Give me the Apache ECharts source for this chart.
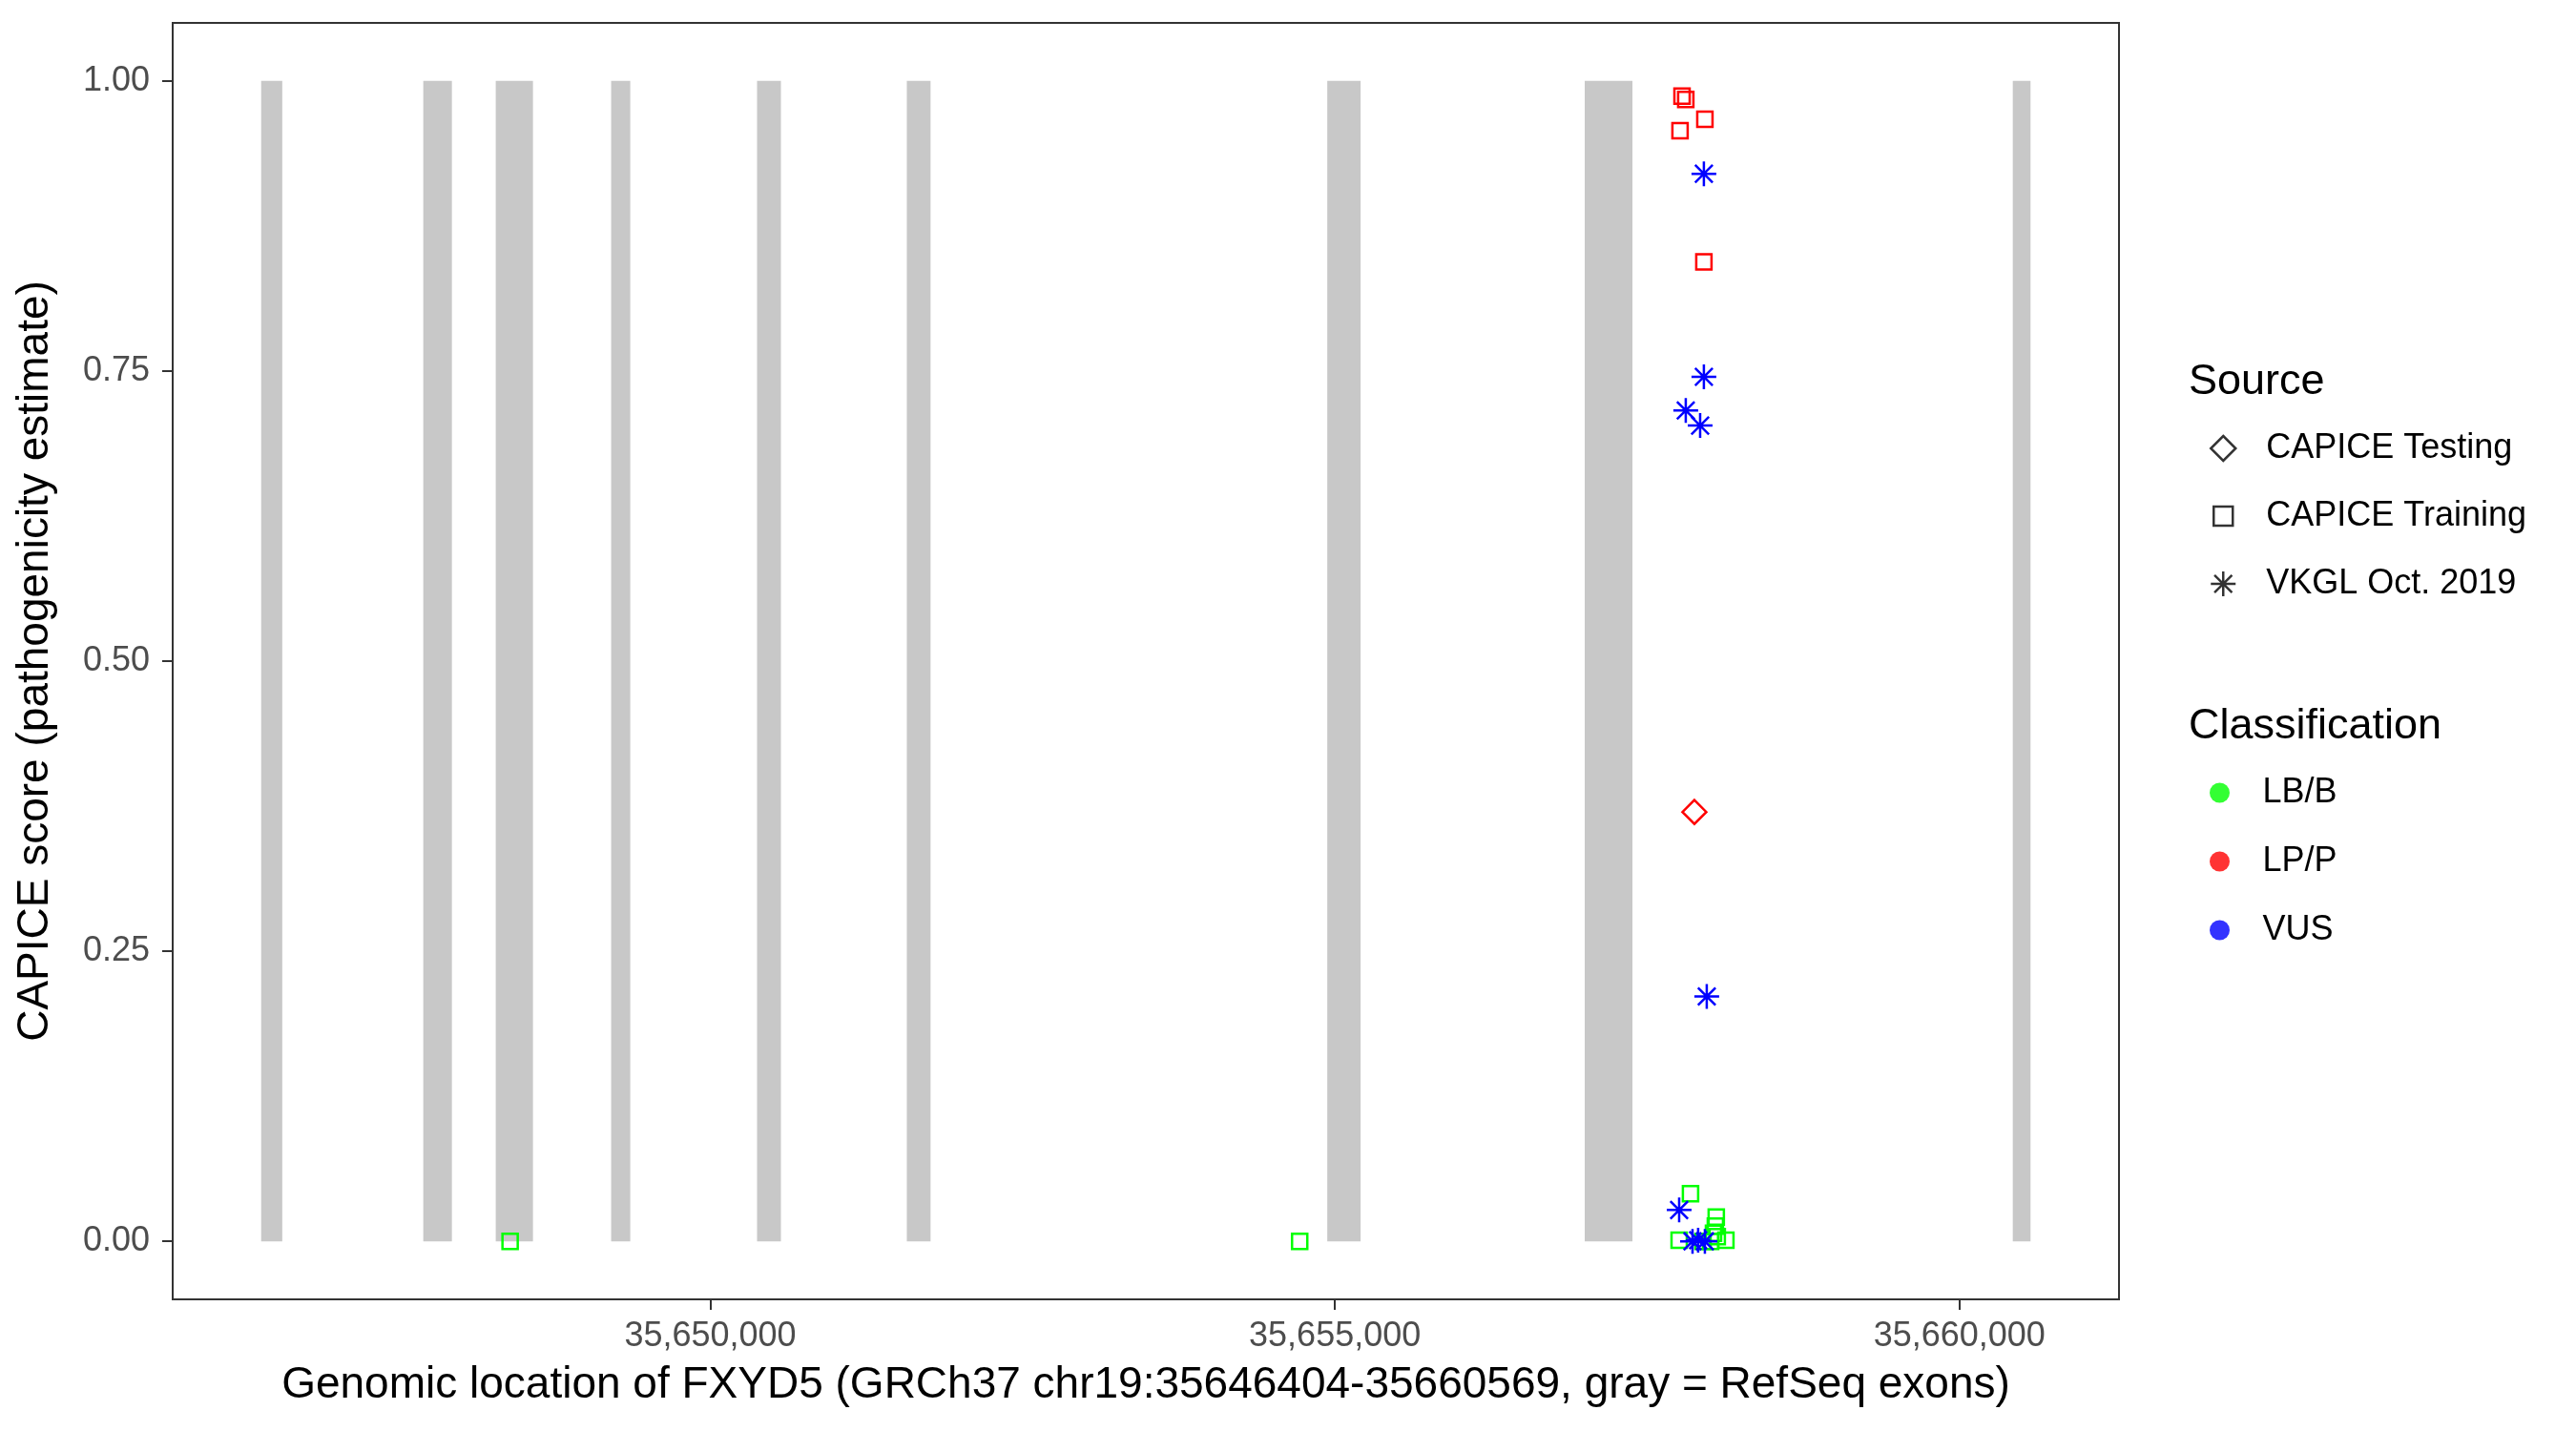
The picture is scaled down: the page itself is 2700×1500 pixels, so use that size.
<!DOCTYPE html>
<html><head><meta charset="utf-8">
<script src="https://cdn.jsdelivr.net/npm/echarts@6/dist/echarts.min.js"></script>
<style>html,body{margin:0;padding:0;background:#fff}#chart{width:2700px;height:1500px}</style>
</head><body><div id="chart"></div>
<script>
// ---- data ----
const geneStart = 35646404;
const geneEnd = 35660569;
const exonStarts = [35646404, 35647702, 35648282, 35649206, 35650374, 35651573, 35654939, 35657000, 35660427];
const exonEnds   = [35646573, 35647931, 35648580, 35649359, 35650565, 35651763, 35655206, 35657382, 35660569];
const xTicks = [35650000, 35655000, 35660000];
const yTicks = [0, 0.25, 0.5, 0.75, 1];

// CAPICE Training, LP/P
const trainLPPx = [35657779, 35657809, 35657962, 35657763, 35657954];
const trainLPPy = [0.987, 0.984, 0.967, 0.957, 0.844];
// CAPICE Testing, LP/P
const testLPPx = [35657878];
const testLPPy = [0.370];
// CAPICE Training, LB/B
const trainLBBx = [35648397, 35654718, 35657756, 35657847, 35658053, 35658046, 35658031, 35658061, 35658130, 35657947, 35658008];
const trainLBBy = [0.0, 0.0, 0.001, 0.041, 0.021, 0.013, 0.007, 0.004, 0.001, 0.0, 0.0];
// VKGL Oct. 2019, VUS
const vkglVUSx = [35657954, 35657954, 35657809, 35657924, 35657977, 35657756, 35657863, 35657962, 35657908];
const vkglVUSy = [0.920, 0.745, 0.716, 0.703, 0.211, 0.027, 0.0, 0.0, 0.001];

const sourceNames = ['CAPICE Testing', 'CAPICE Training', 'VKGL Oct. 2019'];
const classNames = ['LB/B', 'LP/P', 'VUS'];
const classColors = ['#00FF00', '#FF0000', '#0000FF'];

// ---- helpers ----
const FONT = 'Liberation Sans, Arial, Helvetica, sans-serif';
const pair = (xs, ys) => xs.map((x, i) => [x, ys[i]]);
const expand = 0.05 * (geneEnd - geneStart);
const xMin = geneStart - expand, xMax = geneEnd + expand;

const starPath = 'path://M0,-13L0,13M-13,0L13,0M-9.19,-9.19L9.19,9.19M-9.19,9.19L9.19,-9.19';
const diamondPath = 'path://M0,-13L13,0L0,13L-13,0Z';
const squareLegendPath = 'path://M-13,-13M13,13M-10,-10L10,-10L10,10L-10,10Z';
const circlePath = 'path://M-10.5,0A10.5,10.5 0 1 1 10.5,0A10.5,10.5 0 1 1 -10.5,0Z';

function pts(name, data, symbol, size, color) {
  return {
    type: 'scatter', name: name, data: data, symbol: symbol, symbolSize: size, z: 5,
    itemStyle: { color: 'rgba(0,0,0,0)', borderColor: color, borderWidth: 2.5, opacity: 1 },
    emphasis: { disabled: true }, silent: true
  };
}

const chart = echarts.init(document.getElementById('chart'), null, { renderer: 'canvas' });
const option = {
  animation: false,
  backgroundColor: '#ffffff',
  textStyle: { fontFamily: FONT },
  grid: { left: 181, top: 24, width: 2040, height: 1338, show: true, borderColor: '#333333', borderWidth: 2, backgroundColor: 'rgba(0,0,0,0)' },
  xAxis: {
    type: 'value', min: xMin, max: xMax,
    axisLine: { show: true, onZero: false, lineStyle: { color: '#333333', width: 2 } },
    axisTick: { show: true, customValues: xTicks, length: 11, lineStyle: { color: '#333333', width: 2 } },
    axisLabel: { customValues: xTicks, fontSize: 36, color: '#4D4D4D', margin: 21, fontFamily: FONT,
      formatter: v => Number(v).toLocaleString('en-US') },
    splitLine: { show: false },
    name: 'Genomic location of FXYD5 (GRCh37 chr19:35646404-35660569, gray = RefSeq exons)',
    nameLocation: 'middle', nameGap: 67,
    nameTextStyle: { fontSize: 46, color: '#000', fontFamily: FONT }
  },
  yAxis: {
    type: 'value', min: -0.05, max: 1.05,
    axisLine: { show: true, onZero: false, lineStyle: { color: '#333333', width: 2 } },
    axisTick: { show: true, customValues: yTicks, length: 11, lineStyle: { color: '#333333', width: 2 } },
    axisLabel: { customValues: yTicks, fontSize: 36, color: '#4D4D4D', margin: 24, fontFamily: FONT,
      formatter: v => Number(v).toFixed(2) },
    splitLine: { show: false },
    name: 'CAPICE score (pathogenicity estimate)',
    nameLocation: 'middle', nameGap: 121,
    nameTextStyle: { fontSize: 46, color: '#000', fontFamily: FONT }
  },
  legend: [
    {
      orient: 'vertical', left: 2311, top: 447, itemWidth: 80, itemHeight: 26, itemGap: 35,
      selectedMode: false,
      textStyle: { fontSize: 36, color: '#000', lineHeight: 26, fontFamily: FONT },
      data: [
        { name: sourceNames[0], icon: diamondPath, itemStyle: { color: 'rgba(0,0,0,0)', borderColor: '#000', borderWidth: 2.5 } },
        { name: sourceNames[1], icon: squareLegendPath, itemStyle: { color: 'rgba(0,0,0,0)', borderColor: '#000', borderWidth: 2.5 } },
        { name: sourceNames[2], icon: starPath, itemStyle: { color: 'rgba(0,0,0,0)', borderColor: '#000', borderWidth: 2.5 } }
      ]
    },
    {
      orient: 'vertical', left: 2311, top: 808, itemWidth: 80, itemHeight: 21, itemGap: 36,
      selectedMode: false,
      textStyle: { fontSize: 36, color: '#000', lineHeight: 21, fontFamily: FONT },
      data: classNames.map((n, i) => ({ name: n, icon: circlePath, itemStyle: { color: classColors[i], borderWidth: 0 } }))
    }
  ],
  graphic: [
    { type: 'text', x: 2294, y: 401, style: { text: 'Source', fontSize: 45, fontFamily: FONT, fill: '#000', verticalAlign: 'middle' } },
    { type: 'text', x: 2294, y: 762, style: { text: 'Classification', fontSize: 45, fontFamily: FONT, fill: '#000', verticalAlign: 'middle' } }
  ],
  series: [
    {
      type: 'custom', name: 'exons', silent: true, z: 1,
      data: exonStarts.map((s, i) => [s, exonEnds[i]]),
      encode: { x: [0, 1] },
      renderItem: (params, api) => {
        const p0 = api.coord([api.value(0), 1]);
        const p1 = api.coord([api.value(1), 0]);
        return { type: 'rect', shape: { x: p0[0], y: p0[1], width: p1[0] - p0[0], height: p1[1] - p0[1] }, style: { fill: '#C8C8C8' } };
      }
    },
    // legend-only series
    { type: 'scatter', name: sourceNames[0], data: [] },
    { type: 'scatter', name: sourceNames[1], data: [] },
    { type: 'scatter', name: sourceNames[2], data: [] },
    { type: 'scatter', name: classNames[0], data: [] },
    { type: 'scatter', name: classNames[1], data: [] },
    { type: 'scatter', name: classNames[2], data: [] },
    // data series
    pts('Training LP/P', pair(trainLPPx, trainLPPy), 'rect', 16, classColors[1]),
    pts('Testing LP/P', pair(testLPPx, testLPPy), 'diamond', 25, classColors[1]),
    pts('Training LB/B', pair(trainLBBx, trainLBBy), 'rect', 16, classColors[0]),
    pts('VKGL VUS', pair(vkglVUSx, vkglVUSy), starPath, 26, classColors[2])
  ]
};
chart.setOption(option);
</script>
</body></html>
